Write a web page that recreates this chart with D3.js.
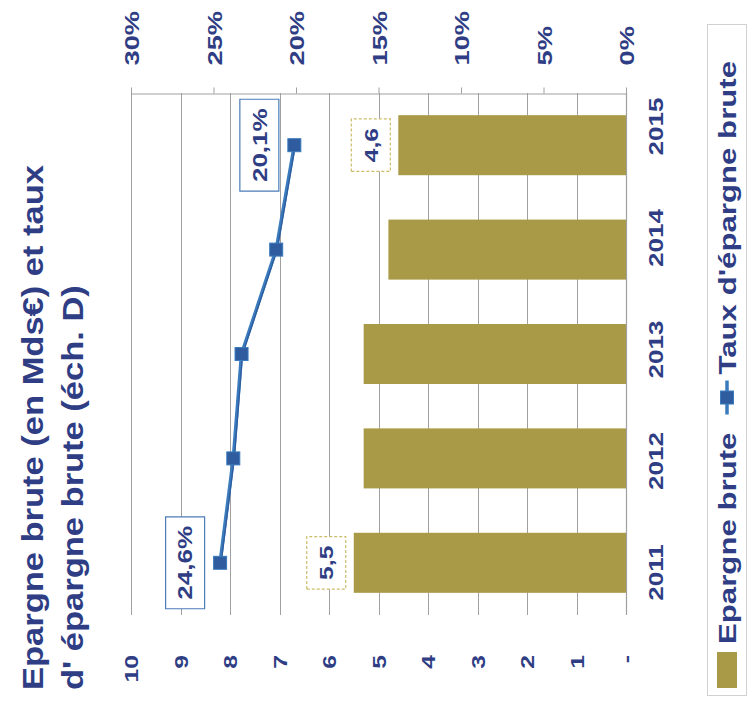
<!DOCTYPE html>
<html>
<head>
<meta charset="utf-8">
<script src="https://cdn.jsdelivr.net/npm/d3@7"></script>
<style>
  html, body { margin: 0; padding: 0; background: #fff; }
  svg { display: block; }
  text { font-family: "Liberation Sans", Arial, sans-serif; font-weight: bold; fill: #2f3d84; }
</style>
</head>
<body>
<svg id="chart" width="747" height="713"></svg>
<script>
// Data
const years = ["2011", "2012", "2013", "2014", "2015"];
const epargneBrute = [5.5, 5.3, 5.3, 4.8, 4.6];          // Mds€
const tauxEpargne = [0.246, 0.238, 0.233, 0.212, 0.201]; // share
const valueTicks = [0, 1, 2, 3, 4, 5, 6, 7, 8, 9, 10];
const valueTickLabels = ["-", "1", "2", "3", "4", "5", "6", "7", "8", "9", "10"];
const pctTicks = [0, 0.05, 0.10, 0.15, 0.20, 0.25, 0.30];
const titleLines = ["Epargne brute  (en Mds€) et taux", "d' épargne brute (éch. D)"];
const legendLabels = ["Epargne brute", "Taux d'épargne brute"];
const labelledPoints = ["2011", "2015"];

// The chart is laid out sideways: values run right-to-left, years bottom-to-top,
// and every text is turned a quarter-turn and drawn slightly wide.
const STRETCH = 1.3;
const BAR = "#a99a48";
const LINE = "#3a7bbd";
const MARK = "#2f5c9e";
const GRID = "#a0a0a0";
const INK = "#2f3d84";

const fr = d3.formatLocale({decimal: ",", thousands: " ", grouping: [3], currency: ["", " €"]});
const fmtVal = fr.format(".1f");
const fmtPct = fr.format(".1%");

const svg = d3.select("#chart");

const plot = {left: 131, right: 626, top: 93, bottom: 615};

const xVal = d3.scaleLinear().domain([0, 10]).range([plot.right, plot.left]);
const xPct = d3.scaleLinear().domain([0, 0.30]).range([plot.right, plot.left]);
const yBand = d3.scaleBand().domain(years).range([plot.bottom, plot.top])
  .paddingInner(0.425).paddingOuter(0.2125);
const yMid = d => yBand(d) + yBand.bandwidth() / 2;
// year captions sit on a slightly wider spacing than the bars
const yLabel = d3.scalePoint().domain(years).range([572, 126]);

function sideways(sel) {
  return sel.attr("transform", `rotate(-90) scale(${STRETCH},1)`);
}

function plainText(axisG) {
  axisG.attr("font-family", null).attr("font-size", null);
  axisG.selectAll(".tick text").attr("fill", null).style("fill", INK);
}

// Gridlines
svg.append("g").selectAll("line")
  .data(valueTicks.filter(v => v > 0))
  .join("line")
  .attr("x1", d => Math.round(xVal(d)) + 0.5).attr("x2", d => Math.round(xVal(d)) + 0.5)
  .attr("y1", plot.top).attr("y2", plot.bottom)
  .attr("stroke", GRID).attr("stroke-width", 1);

// Secondary (percentage) axis along the top
const pctAxis = svg.append("g")
  .attr("transform", `translate(0,${plot.top + 0.5})`)
  .call(d3.axisTop(xPct).tickValues(pctTicks).tickSize(6).tickSizeOuter(0)
    .tickFormat(d => Math.round(d * 100) + "%"));
plainText(pctAxis);
pctAxis.select(".domain").attr("stroke", GRID);
pctAxis.selectAll(".tick line").attr("stroke", GRID);
pctAxis.selectAll(".tick text")
  .attr("x", null).attr("y", null).attr("dy", "0.36em")
  .attr("text-anchor", "start").attr("font-size", 21)
  .attr("transform", `translate(0,-28) rotate(-90) scale(${STRETCH},1)`);

// Primary value axis labels along the bottom
const valAxis = svg.append("g")
  .attr("transform", `translate(0,${plot.bottom})`)
  .call(d3.axisBottom(xVal).tickValues(valueTicks).tickSize(0)
    .tickFormat((d, i) => valueTickLabels[i]));
plainText(valAxis);
valAxis.select(".domain").remove();
valAxis.selectAll(".tick text")
  .attr("x", null).attr("y", null).attr("dy", "0.36em")
  .attr("text-anchor", "end").attr("font-size", 19)
  .attr("transform", `translate(0,40) rotate(-90) scale(${STRETCH},1)`);

// Bars
svg.append("g").selectAll("rect")
  .data(years.map((y, i) => ({year: y, v: epargneBrute[i]})))
  .join("rect")
  .attr("x", d => xVal(d.v)).attr("width", d => xVal(0) - xVal(d.v))
  .attr("y", d => yBand(d.year)).attr("height", yBand.bandwidth())
  .attr("fill", BAR);

// Category axis line and year captions
svg.append("line")
  .attr("x1", plot.right + 0.5).attr("x2", plot.right + 0.5)
  .attr("y1", plot.top).attr("y2", plot.bottom)
  .attr("stroke", GRID).attr("stroke-width", 1.2);
const catAxis = svg.append("g")
  .attr("transform", `translate(${plot.right + 0.5},0)`)
  .call(d3.axisRight(yLabel).tickSizeInner(0).tickSizeOuter(0));
plainText(catAxis);
catAxis.select(".domain").remove();
catAxis.selectAll(".tick text")
  .attr("x", null).attr("y", null).attr("dy", "0.36em")
  .attr("text-anchor", "middle").attr("font-size", 20)
  .attr("transform", `translate(29,0) rotate(-90) scale(${STRETCH},1)`);

// Savings-rate line
const ratePts = years.map((y, i) => ({year: y, v: tauxEpargne[i]}));
svg.append("path")
  .datum(ratePts)
  .attr("fill", "none").attr("stroke", LINE).attr("stroke-width", 3.5)
  .attr("stroke-linejoin", "round")
  .attr("d", d3.line().x(d => xPct(d.v)).y(d => yMid(d.year)));
svg.append("path")
  .datum(ratePts)
  .attr("fill", "none").attr("stroke", MARK).attr("stroke-width", 1.2)
  .attr("d", d3.line().x(d => xPct(d.v) + 1).y(d => yMid(d.year)));
svg.append("g").selectAll("rect")
  .data(ratePts)
  .join("rect")
  .attr("x", d => xPct(d.v) - 6.5).attr("y", d => yMid(d.year) - 6.5)
  .attr("width", 13).attr("height", 13)
  .attr("fill", MARK).attr("stroke", LINE).attr("stroke-width", 1);

// Value labels in boxes
function boxLabel(cx, cy, txt, size, stroke, dash) {
  const g = svg.append("g").attr("transform", `translate(${cx},${cy})`);
  const inner = sideways(g.append("g"));
  const rect = inner.append("rect");
  const t = inner.append("text").attr("text-anchor", "middle").attr("dy", "0.36em")
    .attr("font-size", size).text(txt);
  const len = t.node().getComputedTextLength();
  const w = len + 14, h = 39;
  rect.attr("x", -w / 2).attr("y", -h / 2).attr("width", w).attr("height", h)
    .attr("fill", "#fff").attr("stroke", stroke).attr("stroke-width", 1.2)
    .attr("vector-effect", "non-scaling-stroke")
    .attr("stroke-dasharray", dash);
}

years.forEach((y, i) => {
  if (!labelledPoints.includes(y)) return;
  boxLabel(xVal(epargneBrute[i]) - 27.5, yMid(y), fmtVal(epargneBrute[i]), 19, "#cbbd6a", "3,2");
  boxLabel(xPct(tauxEpargne[i]) - 35, yMid(y), fmtPct(tauxEpargne[i]), 20, "#4b7cb8", null);
});

// Title
titleLines.forEach((line, i) => {
  svg.append("text")
    .attr("transform", `translate(${43 + i * 40},690) rotate(-90) scale(1.15,1)`)
    .attr("font-size", 30).text(line);
});

// Legend
const leg = svg.append("g");
leg.append("rect").attr("x", 707.5).attr("y", 24.5).attr("width", 39).attr("height", 671)
  .attr("fill", "#fff").attr("stroke", "#d0d0d0");
const legX = 727;
let yPos = 688;
leg.append("rect").attr("x", legX - 10).attr("y", yPos - 36).attr("width", 20).attr("height", 36)
  .attr("fill", BAR);
yPos -= 44;
const t1 = leg.append("text").attr("font-size", 24).attr("dy", "0.36em").text(legendLabels[0])
  .attr("transform", `translate(${legX},${yPos}) rotate(-90) scale(${STRETCH},1)`);
yPos -= t1.node().getComputedTextLength() * STRETCH + 18;
leg.append("line").attr("x1", legX).attr("x2", legX).attr("y1", yPos).attr("y2", yPos - 34)
  .attr("stroke", LINE).attr("stroke-width", 3.5);
leg.append("rect").attr("x", legX - 6.5).attr("y", yPos - 17 - 6.5).attr("width", 13).attr("height", 13)
  .attr("fill", MARK).attr("stroke", LINE);
yPos -= 40;
leg.append("text").attr("font-size", 24).attr("dy", "0.36em").text(legendLabels[1])
  .attr("transform", `translate(${legX},${yPos}) rotate(-90) scale(${STRETCH},1)`);
</script>
</body>
</html>
